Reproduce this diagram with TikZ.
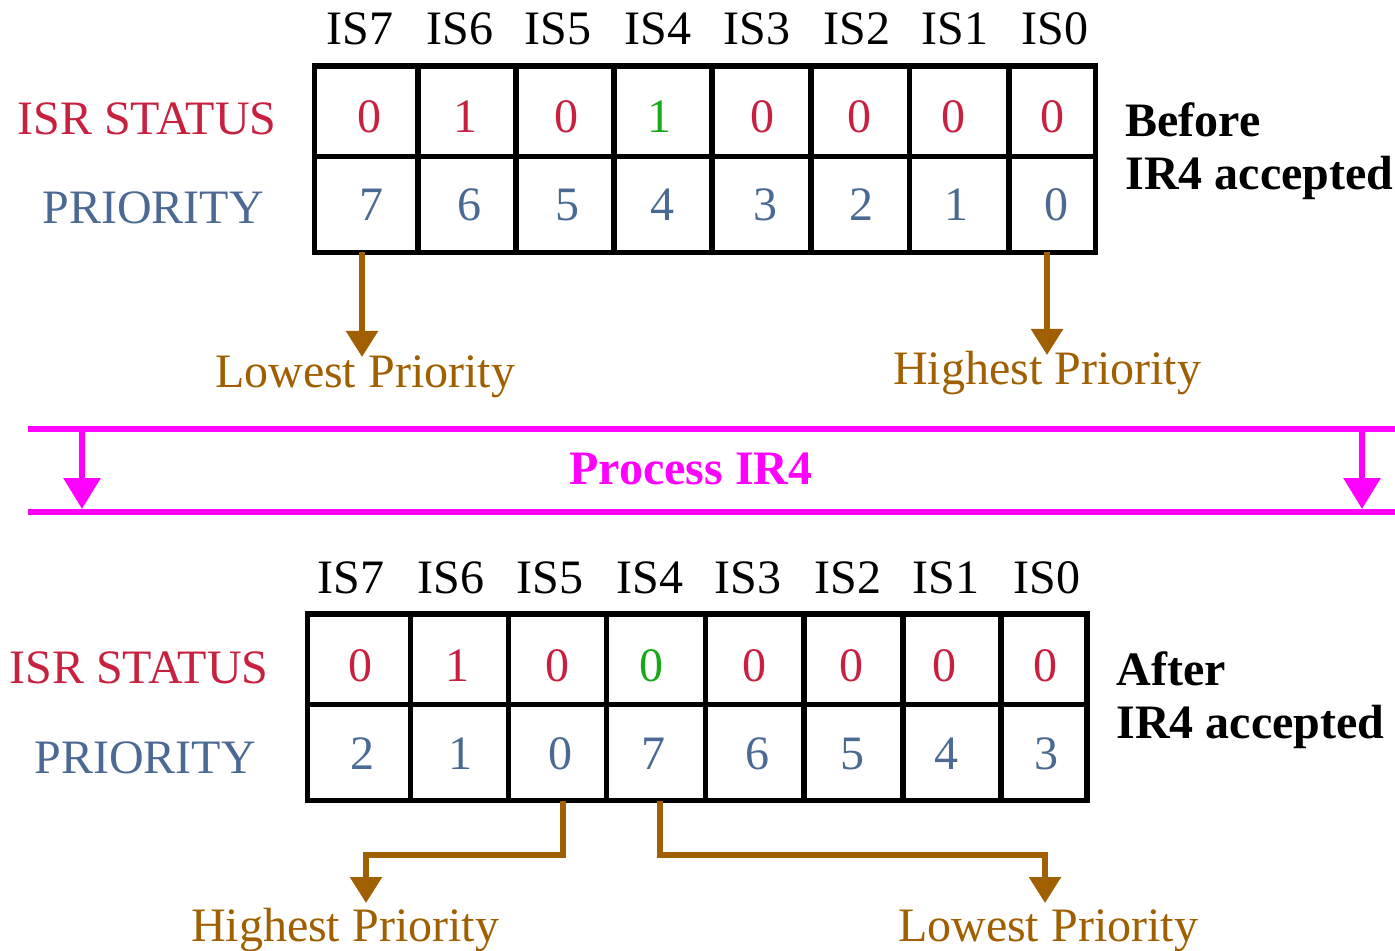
\documentclass[tikz,border=0pt]{standalone}
\usepackage{fontspec}
\setmainfont{Liberation Serif}
\usetikzlibrary{arrows.meta}
\definecolor{isrred}{HTML}{C8203F}
\definecolor{prioblue}{HTML}{4A6A94}
\definecolor{setgreen}{HTML}{19A819}
\definecolor{arrowbrown}{HTML}{A05F00}
\definecolor{procmagenta}{HTML}{FF00FF}

\begin{document}
\begin{tikzpicture}[x=0.5pt,y=-0.5pt,
      every node/.style={font=\fontsize{24}{28}\selectfont,inner sep=0pt,anchor=base},
      grid/.style={line width=2.8pt},
      isr/.style={text=isrred},
      prio/.style={text=prioblue},
      note/.style={font=\fontsize{24}{28}\selectfont\bfseries,anchor=base west},
      pointer/.style={draw=arrowbrown,line width=2.8pt,-{Triangle[length=13pt,width=15.5pt]}},
      pointlabel/.style={text=arrowbrown},
      proc/.style={draw=procmagenta,line width=3pt},
      procarrow/.style={proc,-{Triangle[length=15.5pt,width=18pt]}}]
    \useasboundingbox (0,0) rectangle (1395,951);

    % before IR4 accepted
    \draw[grid] (314.5,66) rectangle (1095.5,252.5);
    \draw[grid] (314.5,156.5) -- (1095.5,156.5);
    \foreach \x in {418,516,614,712,811,909.5,1009}
        \draw[grid] (\x,66) -- (\x,252.5);
    \foreach \x/\i in {360/7,460/6,558/5,658/4,757/3,857/2,955/1,1055/0}
        \node (topis\i) at (\x,45) {IS\i};
    \foreach \x/\v/\c [count=\n] in {369/0/isrred,465/1/isrred,566/0/isrred,659/1/setgreen,
                                     762/0/isrred,859/0/isrred,953/0/isrred,1052/0/isrred}
        \node[text=\c] (topst\n) at (\x,133) {\v};
    \foreach \x/\v in {371/7,469/6,567/5,662/4,765/3,861/2,956/1,1056/0}
        \node[prio] (toppr\v) at (\x,221) {\v};
    \node[isr] (topisr) at (147,135) {ISR STATUS};
    \node[prio] (topprio) at (153,224) {PRIORITY};
    \node[note] (before) at (1125,137) {Before};
    \node[note] (beforeacc) at (1125,190) {IR4 accepted};

    \coordinate (lowstart) at (362,252.5);
    \coordinate (lowtip) at (362,357);
    \coordinate (highstart) at (1047,252.5);
    \coordinate (hightip) at (1047,355);
    \draw[pointer] (lowstart) -- (lowtip);
    \draw[pointer] (highstart) -- (hightip);
    \node[pointlabel] (toplow) at (365,387) {Lowest Priority};
    \node[pointlabel] (tophigh) at (1047,385) {Highest Priority};

    % process IR4
    \coordinate (procnw) at (28,429);
    \coordinate (procne) at (1395,429);
    \coordinate (procsw) at (28,512);
    \coordinate (procse) at (1395,512);
    \draw[proc] (procnw) -- (procne);
    \draw[proc] (procsw) -- (procse);
    \coordinate (procla) at (82,429);
    \coordinate (proclb) at (82,509);
    \coordinate (procra) at (1362,429);
    \coordinate (procrb) at (1362,509);
    \draw[procarrow] (procla) -- (proclb);
    \draw[procarrow] (procra) -- (procrb);
    \node[text=procmagenta,font=\fontsize{24}{28}\selectfont\bfseries] (process) at (691,484) {Process IR4};

    % after IR4 accepted
    \draw[grid] (307.5,614) rectangle (1087,800.5);
    \draw[grid] (307.5,704.5) -- (1087,704.5);
    \foreach \x in {410.5,508.5,606.5,705.5,804,903,1001}
        \draw[grid] (\x,614) -- (\x,800.5);
    \foreach \x/\i in {351/7,451/6,550/5,650/4,748/3,848/2,946/1,1047/0}
        \node (botis\i) at (\x,593) {IS\i};
    \foreach \x/\v/\c [count=\n] in {360/0/isrred,457/1/isrred,557/0/isrred,651/0/setgreen,
                                     754/0/isrred,851/0/isrred,944/0/isrred,1045/0/isrred}
        \node[text=\c] (botst\n) at (\x,681) {\v};
    \foreach \x/\v in {362/2,460/1,560/0,653/7,757/6,852/5,946/4,1046/3}
        \node[prio] (botpr\v) at (\x,769) {\v};
    \node[isr] (botisr) at (139,683) {ISR STATUS};
    \node[prio] (botprio) at (145,773) {PRIORITY};
    \node[note] (after) at (1116,685) {After};
    \node[note] (afteracc) at (1116,738) {IR4 accepted};

    \coordinate (hibstart) at (563,800.5);
    \coordinate (hibbend) at (366,855);
    \coordinate (hibtip) at (366,903);
    \coordinate (lobstart) at (660,800.5);
    \coordinate (lobbend) at (1045,855);
    \coordinate (lobtip) at (1045,903);
    \draw[pointer] (hibstart) |- (hibbend) -- (hibtip);
    \draw[pointer] (lobstart) |- (lobbend) -- (lobtip);
    \node[pointlabel] (bothigh) at (345,941) {Highest Priority};
    \node[pointlabel] (botlow) at (1048,941) {Lowest Priority};
  \end{tikzpicture}
\end{document}
